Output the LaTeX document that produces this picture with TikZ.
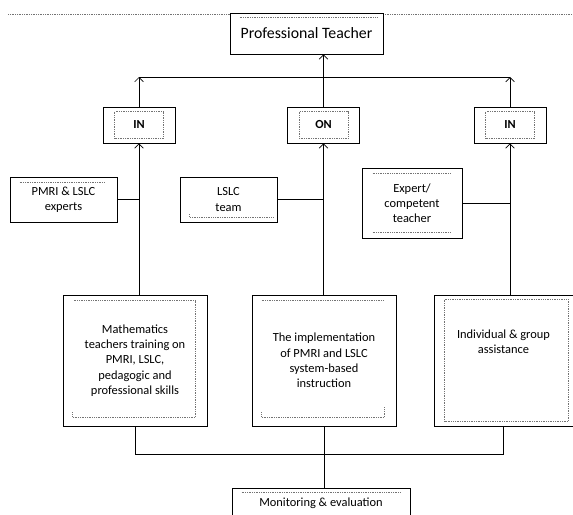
\documentclass[tikz,border=0pt]{standalone}
\usepackage{fontspec}
\setmainfont{Carlito}
\usetikzlibrary{arrows.meta,calc}
\tikzset{
  font=\fontsize{10.6}{13}\selectfont,
  box/.style ={draw, line width=0.6pt, align=center, inner sep=2pt},
  tag/.style ={box, minimum width=2.16cm, minimum height=1.08cm, font=\fontsize{10.5}{13}\selectfont\bfseries},
  side/.style={box, minimum height=1.35cm},
  big/.style ={box, minimum width=4.32cm, minimum height=3.93cm},
  arr/.style ={-{Straight Barb[length=1.3mm,width=2.6mm]}, line width=0.6pt},
  ln/.style  ={line width=0.6pt},
  dots/.style={densely dotted, line width=0.5pt, black!55},
}
\begin{document}
\begin{tikzpicture}[x=0.03cm, y=-0.03cm]
  \useasboundingbox (0,0) rectangle (573,514);
  % page header rule
  \draw[dots] (8,14) -- (230,14) (383,14) -- (573,14);

  \node[box, minimum width=4.59cm, minimum height=1.23cm, font=\fontsize{13.5}{15}\selectfont] (pt) at (306.5,33.5) {Professional Teacher};

  \node[tag] (inL) at (139,125)   {IN};
  \node[tag] (on)  at (323.5,125) {ON};
  \node[tag] (inR) at (510,125)   {IN};

  \node[side, minimum width=3.21cm] (pmri) at (63.5,199.5) {PMRI \& LSLC\\experts};
  \node[side, minimum width=2.91cm] (team) at (228.5,199.5) {LSLC\\team};
  \node[box, minimum width=3cm, minimum height=2.1cm] (expert) at (412,203) {Expert/\\competent\\teacher};

  \node[big] (train) at (135,360.5) {Mathematics\\teachers training on\\PMRI, LSLC,\\pedagogic and\\professional skills};
  \node[big] (impl)  at (324,360.5) {The implementation\\of PMRI and LSLC\\system-based\\instruction};
  \node[big, minimum width=4.17cm] (assist) at (503.5,360.5) {};
  \node[align=center] (assistTxt) at (503.5,342) {Individual \& group\\assistance};

  \node[box, minimum width=5.34cm, minimum height=0.9cm] (mon) at (321,503) {Monitoring \& evaluation};

  % dotted inner frames
  \draw[dots] ($(pt.north west)+(10,5)$) -- ($(pt.north east)+(-5,5)$);
  \foreach \n in {inL,on,inR}
    \draw[dots] ($(\n.north west)+(12,5)$) rectangle ($(\n.south east)+(-12,-5)$);
  \draw[dots] ($(pmri.north west)+(10,6)$) -- ($(pmri.north east)+(-12,6)$);
  \draw[dots] ($(team.south west)+(10,-8)$) |- ($(team.south east)+(-4,-5)$);
  \draw[dots] ($(expert.north west)+(11,6)$) -- ($(expert.north east)+(-12,6)$)
              ($(expert.south west)+(11,-6)$) -- ($(expert.south east)+(-12,-6)$);
  \draw[dots] ($(train.south west)+(10,-14)$) |- ($(train.south east)+(-12,-9)$) |- ($(train.north west)+(10,6)$);
  \draw[dots] ($(impl.north west)+(10,6)$) -- ($(impl.north east)+(-12,6)$);
  \draw[dots] ($(impl.south west)+(10,-14)$) |- ($(impl.south east)+(-12,-9)$) -- ($(impl.south east)+(-12,-20)$);
  \draw[dots] ($(assist.north west)+(11,5)$) rectangle ($(assist.south east)+(-5,-5)$);
  \draw[dots] ($(mon.north west)+(10,5)$) -- ($(mon.north east)+(-10,5)$);

  % connectors up to the teacher
  \coordinate (bus) at (0,77);
  \draw[arr] (inL.north) -- (inL.north |- bus);
  \draw[arr] (inR.north) -- (inR.north |- bus);
  \draw[ln] (inL.north |- bus) -- (inR.north |- bus);
  \draw[arr] (on.north) -- (on.north |- pt.south);
  \foreach \a/\b in {train/inL, impl/on, assist/inR}
    \draw[arr] (\b.south |- \a.north) -- (\b.south);
  \foreach \a/\b in {pmri/inL, team/on, expert/inR}
    \draw[ln] (\a.east) -- (\a.east -| \b);

  % down to monitoring
  \draw[ln] (train.south) -- ++(0,28) -| (assist.south);
  \draw[ln] (impl.south) -- (impl.south |- mon.north);
\end{tikzpicture}
\end{document}
